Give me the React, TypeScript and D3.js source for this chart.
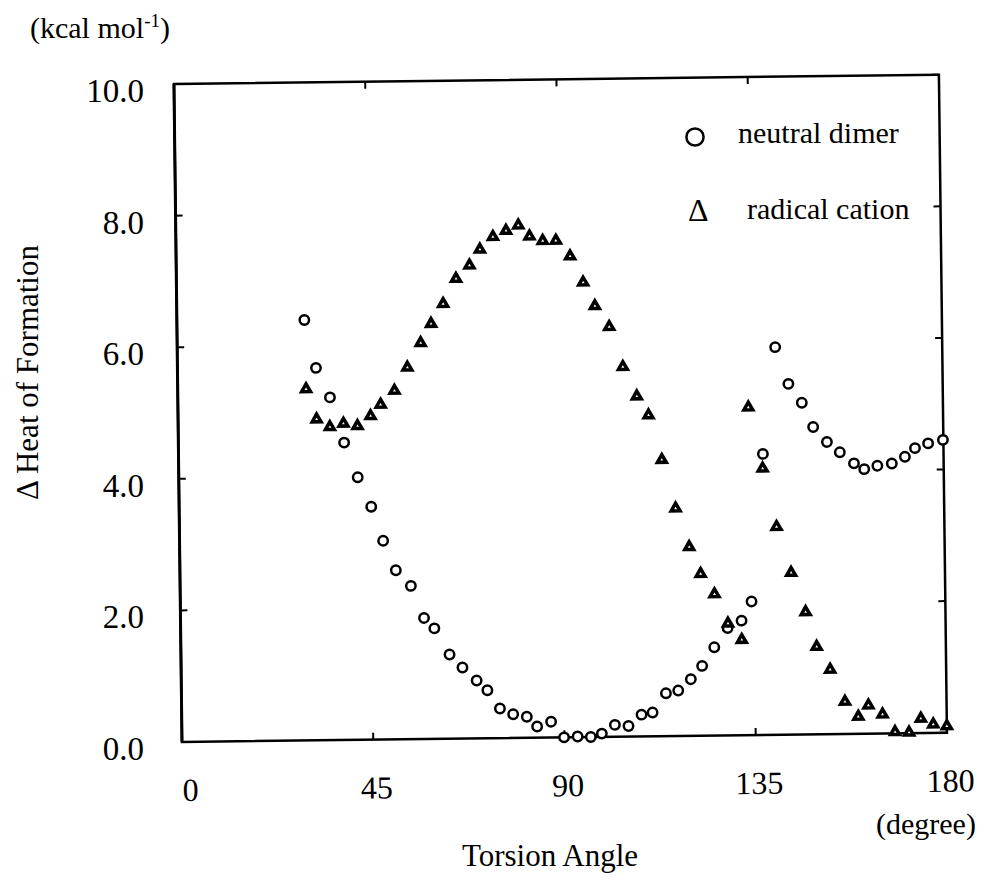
import React from "react";
import * as d3 from "d3";

// Torsion angle (degree) and Δ heat of formation (kcal/mol)
const neutralAngle = [30.0, 32.6, 35.8, 39.0, 42.1, 45.2, 47.9, 50.8, 54.3, 57.3, 59.7, 63.2, 66.2, 69.5, 72.0, 74.9, 78.0, 81.2, 83.6, 86.9, 89.9, 93.1, 96.2, 98.8, 101.9, 105.1, 108.2, 110.8, 114.0, 116.9, 119.9, 122.6, 125.5, 128.7, 132.0, 134.4, 137.5, 140.7, 143.7, 146.8, 149.4, 152.6, 155.6, 158.9, 161.3, 164.4, 167.8, 170.9, 173.3, 176.4, 179.9];
const neutralHeat = [6.39, 5.66, 5.21, 4.52, 3.99, 3.54, 3.02, 2.57, 2.33, 1.84, 1.68, 1.28, 1.08, 0.88, 0.73, 0.45, 0.36, 0.32, 0.17, 0.24, 0.0, 0.01, 0.0, 0.05, 0.18, 0.16, 0.33, 0.36, 0.65, 0.69, 0.86, 1.06, 1.34, 1.63, 1.74, 2.03, 4.27, 5.89, 5.33, 5.04, 4.67, 4.44, 4.28, 4.11, 4.02, 4.07, 4.10, 4.20, 4.33, 4.40, 4.45];

const cationAngle = [30.2, 32.6, 35.7, 38.9, 42.2, 45.3, 47.7, 51.0, 54.1, 57.3, 59.8, 62.7, 65.8, 69.0, 71.5, 74.6, 77.7, 80.6, 83.2, 86.3, 89.4, 92.7, 95.7, 98.4, 101.7, 104.8, 108.0, 110.7, 113.7, 116.8, 119.9, 122.5, 125.7, 128.8, 132.0, 134.2, 137.4, 140.5, 143.8, 147.1, 149.6, 152.7, 156.1, 159.2, 161.6, 164.9, 167.8, 171.1, 173.9, 176.8, 180.0];
const cationHeat = [5.34, 4.88, 4.76, 4.81, 4.77, 4.92, 5.09, 5.30, 5.65, 6.02, 6.31, 6.61, 6.99, 7.19, 7.43, 7.62, 7.71, 7.79, 7.62, 7.55, 7.55, 7.31, 6.91, 6.55, 6.23, 5.62, 5.17, 4.88, 4.20, 3.46, 2.87, 2.46, 2.15, 1.70, 1.45, 4.98, 4.05, 3.16, 2.46, 1.86, 1.33, 0.98, 0.49, 0.26, 0.43, 0.29, 0.02, 0.01, 0.22, 0.13, 0.10];

const xTicks = [0, 45, 90, 135, 180];
const yTicks = [0, 2, 4, 6, 8, 10];
const legendLabels = ["neutral dimer", "radical cation"];

const FONT = "Liberation Serif, Times New Roman, serif";

export default function App() {
  const W = 986, H = 881;
  const left = 182, bottom = 742, pw = 765, ph = 658;
  const x = d3.scaleLinear().domain([0, 180]).range([left, left + pw]);
  const y = d3.scaleLinear().domain([0, 10]).range([bottom, bottom - ph]);
  const tilt = -0.7;
  const tri = d3.symbol().type(d3.symbolTriangle).size(34)();
  const fmt = d3.format(".1f");
  const tickLen = 7;
  const ts = { fontFamily: FONT, fill: "#000" } as const;

  const neutral = neutralAngle.map((a, i) => ({ a, h: neutralHeat[i] }));
  const cation = cationAngle.map((a, i) => ({ a, h: cationHeat[i] }));

  return (
    <svg width={W} height={H} style={{ position: "absolute", left: 0, top: 0, background: "#fff", fontFamily: FONT }}>
      <rect x={0} y={0} width={W} height={H} fill="#fff" />
      <g transform={`rotate(${tilt}, ${left}, ${bottom})`}>
        {/* frame */}
        <rect x={left} y={bottom - ph} width={pw} height={ph} fill="none" stroke="#000" strokeWidth={2.5} />
        <line x1={left} x2={left} y1={bottom} y2={bottom - ph} stroke="#000" strokeWidth={3} />
        {/* y ticks left/right */}
        {yTicks.map((t) => (
          <g key={"yt" + t}>
            <line x1={left} x2={left + tickLen} y1={y(t)} y2={y(t)} stroke="#000" strokeWidth={2} />
            <line x1={left + pw} x2={left + pw - tickLen} y1={y(t)} y2={y(t)} stroke="#000" strokeWidth={2} />
          </g>
        ))}
        {/* x ticks bottom/top */}
        {xTicks.map((t) => (
          <g key={"xt" + t}>
            <line x1={x(t)} x2={x(t)} y1={bottom} y2={bottom - tickLen} stroke="#000" strokeWidth={2} />
            <line x1={x(t)} x2={x(t)} y1={bottom - ph} y2={bottom - ph + tickLen} stroke="#000" strokeWidth={2} />
          </g>
        ))}
        {/* x tick labels */}
        {xTicks.map((t) => (
          <text key={"xl" + t} x={x(t) + (t === 0 ? 8 : 3)} y={bottom + 59} fontSize={32} textAnchor="middle" style={ts}>
            {t}
          </text>
        ))}
        {/* neutral dimer circles */}
        {neutral.map((d, i) => (
          <circle key={"n" + i} cx={x(d.a)} cy={y(d.h)} r={4.7} fill="#fff" stroke="#000" strokeWidth={2.5} />
        ))}
        {/* radical cation triangles */}
        {cation.map((d, i) => (
          <path key={"c" + i} d={tri} transform={`translate(${x(d.a)},${y(d.h)})`} fill="#fff" stroke="#000" strokeWidth={3.5} strokeLinejoin="miter" />
        ))}
      </g>

      {/* y tick labels */}
      {yTicks.map((t) => (
        <text key={"yl" + t} x={144} y={y(t) + 7} fontSize={33} textAnchor="end" dominantBaseline="central" style={ts}>
          {fmt(t)}
        </text>
      ))}

      {/* unit label */}
      <text x={30} y={38} fontSize={30} style={ts}>
        (kcal mol<tspan dy={-11} fontSize={19}>-1</tspan><tspan dy={11}>)</tspan>
      </text>

      {/* y title */}
      <text transform="translate(38,500) rotate(-90)" fontSize={31} style={ts}>
        Δ Heat of Formation
      </text>

      {/* x titles */}
      <text x={550} y={866} fontSize={31} textAnchor="middle" style={ts}>Torsion Angle</text>
      <text x={876} y={834} fontSize={30} style={ts}>(degree)</text>

      {/* legend */}
      <circle cx={695} cy={137} r={8.6} fill="none" stroke="#000" strokeWidth={2.5} />
      <text x={738} y={143} fontSize={30} style={ts}>{legendLabels[0]}</text>
      <text x={688} y={221} fontSize={32} style={ts}>Δ</text>
      <text x={747} y={219} fontSize={30} style={ts}>{legendLabels[1]}</text>
    </svg>
  );
}
